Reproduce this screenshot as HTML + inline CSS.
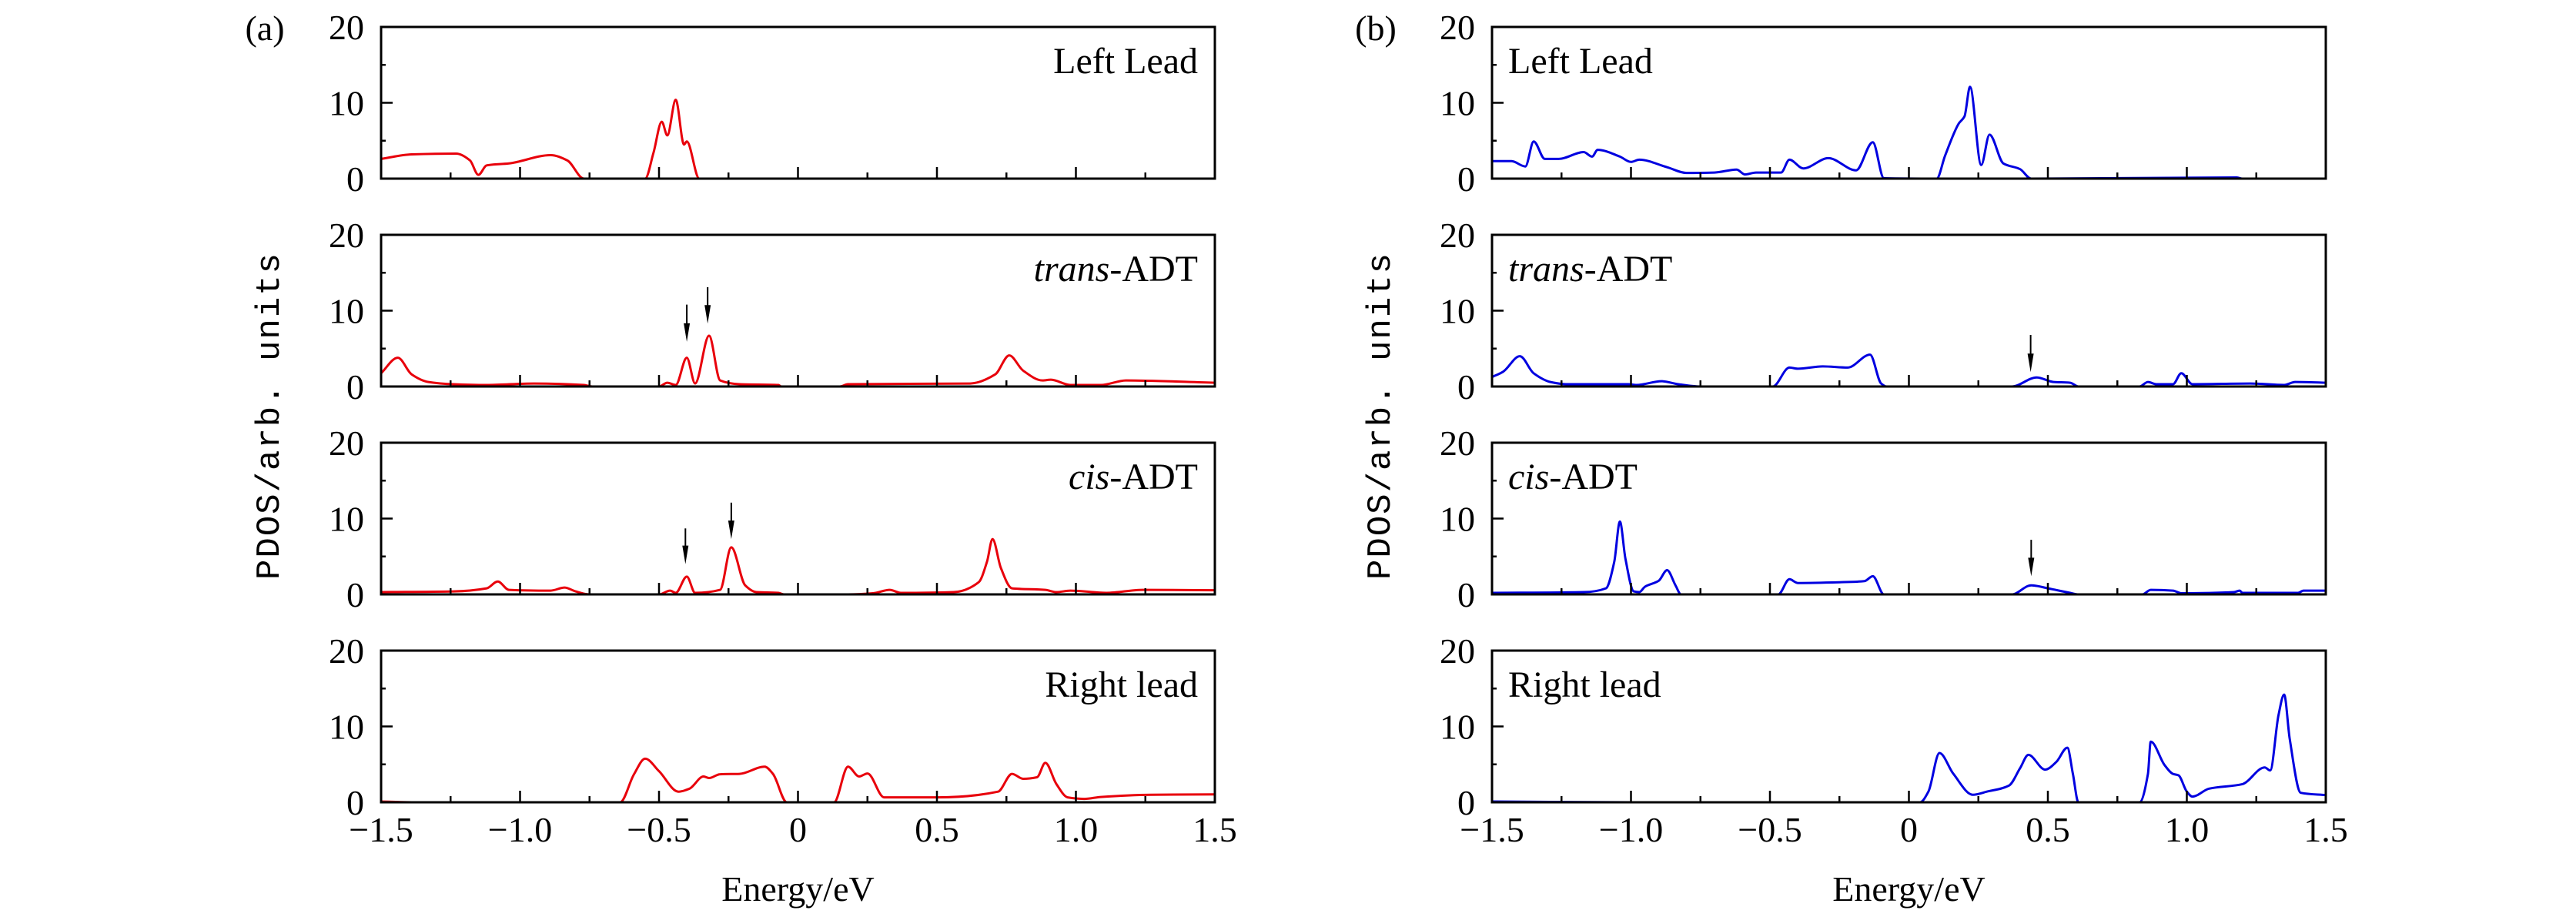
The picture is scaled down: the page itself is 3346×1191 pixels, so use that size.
<!DOCTYPE html>
<html><head><meta charset="utf-8">
<style>
html,body{margin:0;padding:0;background:#fff;}
svg{display:block;}
text{font-family:"Liberation Serif",serif;fill:#000;}
</style></head>
<body>
<svg id="chart" width="3346" height="1191" viewBox="0 0 3346 1191" xmlns="http://www.w3.org/2000/svg"></svg>
<script>
// ---- data ----
const xTicks = [-1.5,-1.0,-0.5,0,0.5,1.0,1.5];
const xTickLabels = ["\u22121.5","\u22121.0","\u22120.5","0","0.5","1.0","1.5"];
const yTicks = [0,10,20];
const yTickLabels = ["0","10","20"];
const panelLabelsA = ["Left Lead","trans-ADT","cis-ADT","Right lead"];
const panelLabelsB = ["Left Lead","trans-ADT","cis-ADT","Right lead"];

const aLeftE = [-1.5,-1.39,-1.23,-1.18,-1.15,-1.12,-1.04,-0.89,-0.83,-0.77,-0.55,-0.52,-0.49,-0.47,-0.44,-0.41,-0.40,-0.355,1.5];
const aLeftV = [2.6,3.2,3.3,2.4,0.5,1.75,2.0,3.1,2.4,0,0,3.4,7.5,5.7,10.4,4.5,4.9,0,0];
const aTransE = [-1.5,-1.44,-1.39,-1.33,-1.24,-1.12,-0.95,-0.77,-0.74,-0.50,-0.47,-0.44,-0.40,-0.37,-0.32,-0.28,-0.21,-0.07,-0.06,0.15,0.18,0.62,0.71,0.76,0.81,0.88,0.91,0.98,1.09,1.18,1.5];
const aTransV = [1.75,3.8,1.6,0.6,0.3,0.2,0.4,0.2,0,0,0.5,0.2,3.8,0.4,6.7,0.8,0.3,0.2,0,0,0.3,0.4,1.6,4.1,2.1,0.8,0.9,0.2,0.2,0.8,0.5];
const aCisE = [-1.5,-1.24,-1.12,-1.08,-1.04,-0.89,-0.84,-0.80,-0.75,-0.50,-0.46,-0.44,-0.40,-0.37,-0.28,-0.24,-0.19,-0.15,-0.07,-0.05,0.18,0.27,0.33,0.37,0.56,0.65,0.68,0.70,0.73,0.77,0.89,0.93,0.98,1.11,1.24,1.5];
const aCisV = [0.3,0.4,0.8,1.7,0.6,0.5,0.9,0.4,0,0,0.5,0.2,2.35,0.2,0.6,6.2,1.2,0.3,0.2,0,0,0.15,0.6,0.2,0.3,1.6,4.3,7.3,3.5,0.8,0.6,0.3,0.5,0.2,0.6,0.55];
const aRightE = [-1.5,-1.39,-0.64,-0.59,-0.55,-0.50,-0.43,-0.39,-0.34,-0.32,-0.28,-0.21,-0.12,-0.09,-0.04,0.13,0.18,0.22,0.25,0.31,0.50,0.72,0.77,0.81,0.86,0.89,0.93,0.97,1.03,1.09,1.27,1.5];
const aRightV = [0.1,0,0,3.7,5.75,4.1,1.4,1.8,3.4,3.2,3.7,3.75,4.7,3.75,0,0,4.7,3.4,3.8,0.65,0.65,1.4,3.75,3.1,3.3,5.2,2.4,0.65,0.45,0.7,1.0,1.05];

const bLeftE = [-1.5,-1.43,-1.38,-1.35,-1.31,-1.26,-1.17,-1.14,-1.12,-1.04,-1.0,-0.97,-0.87,-0.80,-0.70,-0.62,-0.59,-0.55,-0.46,-0.43,-0.38,-0.29,-0.19,-0.13,-0.09,0.10,0.13,0.18,0.20,0.22,0.26,0.29,0.34,0.40,0.44,1.18,1.20,1.5];
const bLeftV = [2.3,2.3,1.6,4.9,2.6,2.6,3.5,2.9,3.8,2.9,2.2,2.5,1.5,0.75,0.8,1.2,0.55,0.8,0.8,2.5,1.35,2.7,1.1,4.8,0.05,0,3.0,7.3,8.2,12.1,1.8,5.8,2.0,1.25,0,0.15,0,0];
const bTransE = [-1.5,-1.46,-1.40,-1.35,-1.29,-1.23,-1.01,-0.98,-0.89,-0.83,-0.75,-0.49,-0.43,-0.40,-0.31,-0.22,-0.14,-0.10,-0.08,0.37,0.46,0.52,0.58,0.61,0.83,0.86,0.89,0.95,0.98,1.02,1.23,1.35,1.39,1.5];
const bTransV = [1.25,1.95,4.0,1.75,0.6,0.3,0.3,0.2,0.7,0.3,0,0,2.5,2.35,2.65,2.5,4.2,0.4,0,0,1.2,0.6,0.5,0,0,0.6,0.3,0.3,1.75,0.3,0.4,0.2,0.6,0.5];
const bCisE = [-1.5,-1.17,-1.09,-1.06,-1.04,-1.02,-0.99,-0.97,-0.95,-0.90,-0.87,-0.84,-0.82,-0.47,-0.43,-0.40,-0.25,-0.16,-0.13,-0.09,0.37,0.44,0.50,0.58,0.61,0.84,0.87,0.95,0.98,1.17,1.19,1.20,1.40,1.42,1.5];
const bCisV = [0.2,0.3,0.8,4.3,9.6,4.7,0.4,0.3,1.0,1.8,3.2,1.2,0,0,2.0,1.5,1.6,1.75,2.4,0,0,1.2,0.8,0.2,0,0,0.6,0.5,0.15,0.3,0.5,0.2,0.2,0.5,0.5];
const bRightE = [-1.5,-0.99,0.04,0.07,0.11,0.16,0.23,0.28,0.36,0.40,0.43,0.49,0.53,0.57,0.59,0.61,0.83,0.86,0.87,0.92,0.95,0.97,1.0,1.02,1.08,1.20,1.28,1.30,1.33,1.35,1.37,1.41,1.5];
const bRightV = [0.1,0,0,1.4,6.5,3.75,1.0,1.4,2.2,4.5,6.25,4.3,5.3,7.2,3.75,0,0,3.75,8.0,4.9,3.75,3.55,1.4,0.75,1.8,2.4,4.6,4.2,11.5,14.2,8.4,1.25,0.95];

// arrows: energy, tip value, tail value
const arrowsATransE = [-0.40,-0.325], arrowsATransTip=[5.9,8.3], arrowsATransTail=[10.8,13.1];
const arrowsACisE = [-0.405,-0.24], arrowsACisTip=[4.0,7.3], arrowsACisTail=[8.7,12.1];
const arrowsBTransE = [0.438], arrowsBTransTip=[1.9], arrowsBTransTail=[6.8];
const arrowsBCisE = [0.44], arrowsBCisTip=[2.4], arrowsBCisTail=[7.2];

// ---- layout ----
const NS="http://www.w3.org/2000/svg";
const svg=document.getElementById('chart');
const W=1083, H=197;
const tops=[35,305,575,845];
function mk(tag,attrs,parent){const e=document.createElementNS(NS,tag);for(const k in attrs)e.setAttribute(k,attrs[k]);(parent||svg).appendChild(e);return e;}

// monotone cubic (Fritsch-Carlson) path through pixel points
function monotonePath(xs,ys){
  const n=xs.length;if(n<2)return '';
  const dx=[],m=[],t=new Array(n);
  for(let i=0;i<n-1;i++){dx.push(xs[i+1]-xs[i]);m.push((ys[i+1]-ys[i])/(xs[i+1]-xs[i]));}
  t[0]=m[0];t[n-1]=m[n-2];
  for(let i=1;i<n-1;i++){
    if(m[i-1]*m[i]<=0)t[i]=0;
    else{const w1=2*dx[i]+dx[i-1],w2=dx[i]+2*dx[i-1];t[i]=(w1+w2)/(w1/m[i-1]+w2/m[i]);}
  }
  let d='M'+xs[0].toFixed(1)+' '+ys[0].toFixed(1);
  for(let i=0;i<n-1;i++){
    const h=dx[i]/3;
    d+='C'+(xs[i]+h).toFixed(1)+' '+(ys[i]+t[i]*h).toFixed(1)+' '+(xs[i+1]-h).toFixed(1)+' '+(ys[i+1]-t[i+1]*h).toFixed(1)+' '+xs[i+1].toFixed(1)+' '+ys[i+1].toFixed(1);
  }
  return d;
}

function drawColumn(col){
  const x0=col.x0;
  const xS=e=>x0+(e+1.5)/3*W;
  for(let p=0;p<4;p++){
    const top=tops[p];
    const yS=v=>top+H-(v/20)*H;
    const g=mk('g',{});
    
    
    const E=col.series[p][0],V=col.series[p][1];
    const d=monotonePath(E.map(xS),V.map(yS));
    const path=mk('path',{d:d,fill:'none',stroke:col.color,'stroke-width':3,'stroke-linejoin':'round'},g);
    
    
    const fr=mk('rect',{x:x0,y:top,width:W,height:H,fill:'none',stroke:'#000','stroke-width':3},g);
    
    
    for(let k=0;k<=12;k++){
      const e=-1.5+k*0.25;const major=(k%2===0);
      const t=mk('line',{x1:xS(e),x2:xS(e),y1:top+H,y2:top+H-(major?15:8),stroke:'#000','stroke-width':2.5},g);
      
      
    }
    [5,10,15].forEach(v=>{
      const t=mk('line',{x1:x0,x2:x0+(v===10?15:6),y1:yS(v),y2:yS(v),stroke:'#000','stroke-width':2.5},g);
      
      
    });
    yTicks.forEach((v,i)=>{
      const t=mk('text',{x:x0-22,y:yS(v)+16,'text-anchor':'end','font-size':46},g);
      t.textContent=yTickLabels[i];
      
      
    });
    const lab=col.labels[p];
    const lt=mk('text',{x:col.right?x0+W-22:x0+21,y:top+60,'text-anchor':col.right?'end':'start','font-size':48},g);
    if(lab.indexOf('-ADT')>0){
      const it=mk('tspan',{'font-style':'italic'},lt);it.textContent=lab.split('-')[0];
      const rs=mk('tspan',{},lt);rs.textContent='-ADT';
    } else lt.textContent=lab;
    
    
    const ar=col.arrows[p];
    if(ar){
      for(let i=0;i<ar[0].length;i++){
        const ax=xS(ar[0][i]),tip=yS(ar[1][i]),tail=yS(ar[2][i]);
        const a=mk('g',{},g);
        
        
        mk('line',{x1:ax,x2:ax,y1:tail,y2:tip-14,stroke:'#000','stroke-width':2},a);
        mk('path',{d:`M${ax-4} ${tip-24}L${ax+4} ${tip-24}L${ax} ${tip}Z`,fill:'#000'},a);
      }
    }
    if(p===3){
      xTicks.forEach((v,i)=>{
        const t=mk('text',{x:xS(v),y:top+H+51,'text-anchor':'middle','font-size':46},g);
        t.textContent=xTickLabels[i];
        
        
      });
    }
  }
  const xt=mk('text',{x:x0+W/2,y:1170,'text-anchor':'middle','font-size':46});
  xt.textContent='Energy/eV';
  
  
  const yt=mk('text',{x:0,y:0,'text-anchor':'middle','font-size':44,transform:`translate(${col.ylx},540) rotate(-90)`,style:'font-family:"Liberation Mono",monospace;letter-spacing:2px'});
  yt.textContent='PDOS/arb. units';
  
  
  const pl=mk('text',{x:col.plx,y:52,'text-anchor':'middle','font-size':46});
  pl.textContent=col.tag;
  
  
}

drawColumn({key:'a',x0:495,color:'#e8000b',right:true,labels:panelLabelsA,tag:'(a)',plx:344,ylx:362,
  series:[[aLeftE,aLeftV],[aTransE,aTransV],[aCisE,aCisV],[aRightE,aRightV]],
  arrows:[null,[arrowsATransE,arrowsATransTip,arrowsATransTail],[arrowsACisE,arrowsACisTip,arrowsACisTail],null]});
drawColumn({key:'b',x0:1938,color:'#0000e0',right:false,labels:panelLabelsB,tag:'(b)',plx:1787,ylx:1805,
  series:[[bLeftE,bLeftV],[bTransE,bTransV],[bCisE,bCisV],[bRightE,bRightV]],
  arrows:[null,[arrowsBTransE,arrowsBTransTip,arrowsBTransTail],[arrowsBCisE,arrowsBCisTip,arrowsBCisTail],null]});
</script>
</body></html>
